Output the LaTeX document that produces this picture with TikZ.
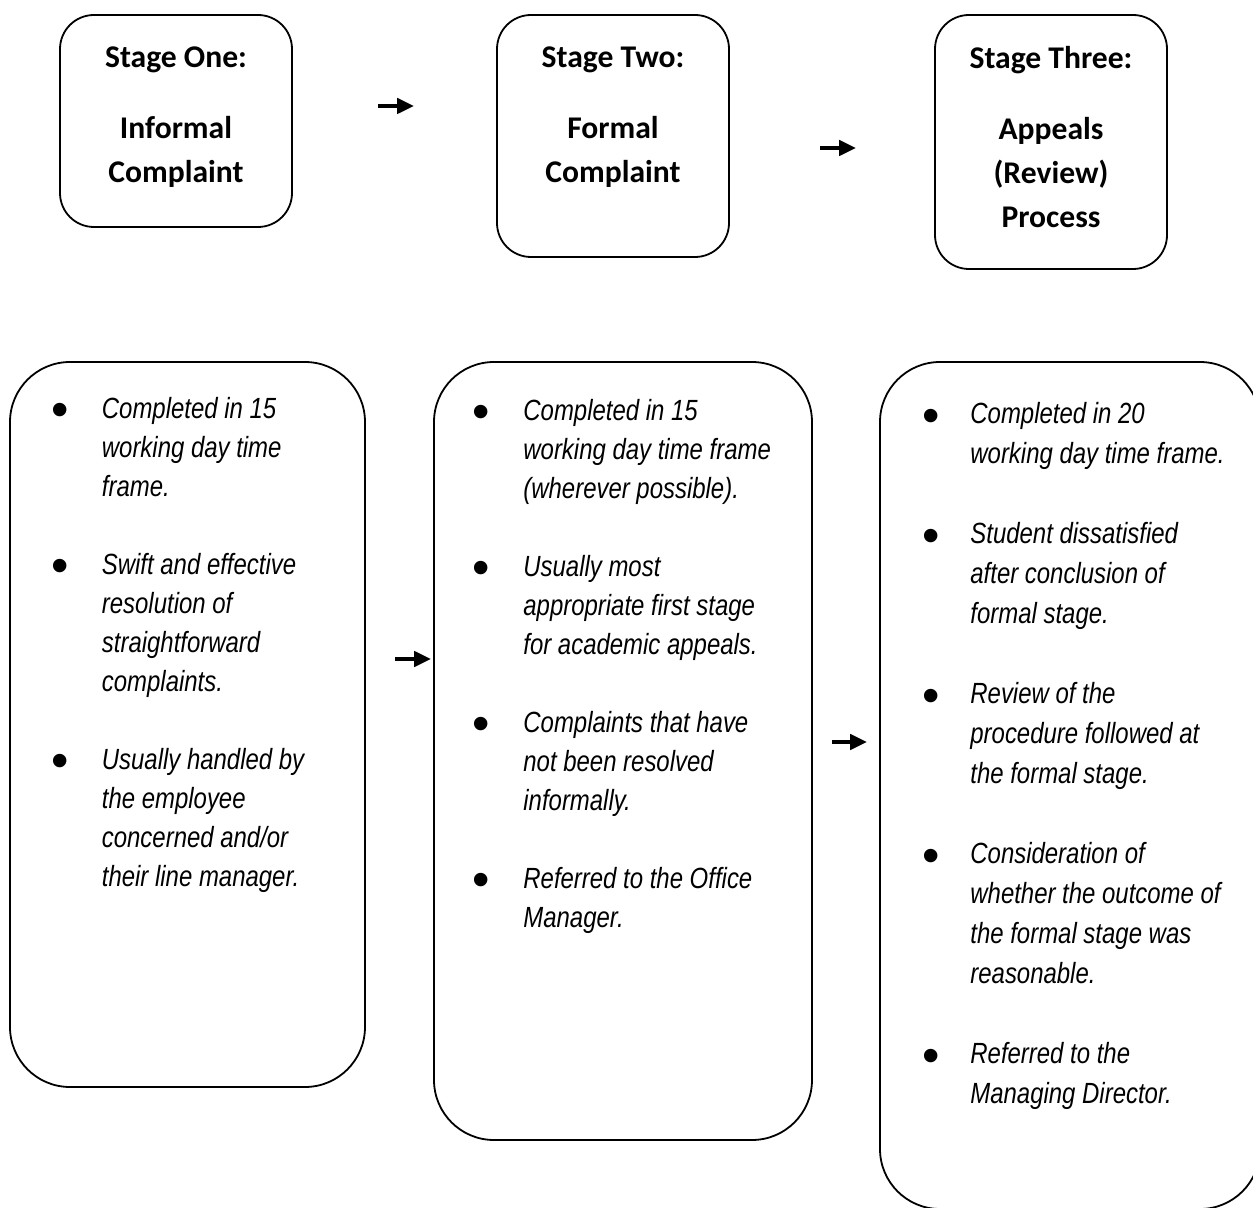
\documentclass[tikz,border=0pt]{standalone}
\usepackage{fontspec}
\newfontfamily\headfont{Carlito}
\newfontfamily\bodyfont[FakeStretch=0.82]{Liberation Sans}
\usetikzlibrary{arrows.meta, positioning}

\tikzset{
  stagebox/.style = {draw, line width = 0.9pt, rounded corners = 17pt, inner sep = 0pt, minimum width = 116pt},
  notebox/.style = {draw, line width = 0.9pt, rounded corners = 30pt, inner sep = 0pt},
  head/.style = {font = \headfont\bfseries\fontsize{15.8pt}{22pt}\selectfont, align = center, inner sep = 0pt},
  notes/.style = {font = \bodyfont\itshape\fontsize{14.6pt}{19.5pt}\selectfont, anchor = north west, inner sep = 0pt},
  arr/.style = {line width = 2.2pt, -{Triangle[length = 8.5pt, width = 7.5pt]}}
}
\newcommand{\bl}{\raisebox{-4.1pt}{\scalebox{2.07}[1.7]{\upshape\textbullet}}}

\begin{document}
\begin{tikzpicture}[x = 0.5pt, y = -0.5pt]
\useasboundingbox (0,0) rectangle (1253,1208);
% stages
\node[stagebox, minimum height = 106pt] (s1) at (176,121) {};
\node[stagebox, minimum height = 121pt] (s2) at (613,136) {};
\node[stagebox, minimum height = 127pt] (s3) at (1051,142) {};
\node[head, below = 16pt of s1.north] (h1) {Stage One:\\[13.5pt]Informal\\Complaint};
\node[head, below = 16pt of s2.north] (h2) {Stage Two:\\[13.5pt]Formal\\Complaint};
\node[head, below = 16pt of s3.north] (h3) {Stage Three:\\[13.5pt]Appeals\\(Review)\\Process};
% notes
\node[notebox, minimum width = 177.5pt, minimum height = 362.5pt] (nA) at (187.5,724.5) {};
\node[notebox, minimum width = 189pt, minimum height = 389pt] (nB) at (623,751) {};
\node[notebox, minimum width = 190pt, minimum height = 423.5pt] (nC) at (1070,785.5) {};
\node[notes] (tA) at (51.5,391) {\begin{tabular}{@{}p{25pt}@{}l@{}}
\bl & Completed in 15\\ & working day time\\ & frame.\\ & \\
\bl & Swift and effective\\ & resolution of\\ & straightforward\\ & complaints.\\ & \\
\bl & Usually handled by\\ & the employee\\ & concerned and/or\\ & their line manager.
\end{tabular}};
\node[notes] (tB) at (472,393) {\begin{tabular}{@{}p{25.5pt}@{}l@{}}
\bl & Completed in 15\\ & working day time frame\\ & (wherever possible).\\ & \\
\bl & Usually most\\ & appropriate first stage\\ & for academic appeals.\\ & \\
\bl & Complaints that have\\ & not been resolved\\ & informally.\\ & \\
\bl & Referred to the Office\\ & Manager.
\end{tabular}};
\node[notes, font = \bodyfont\itshape\fontsize{14.6pt}{20pt}\selectfont] (tC) at (922,395.5) {\begin{tabular}{@{}p{24pt}@{}l@{}}
\bl & Completed in 20\\ & working day time frame.\\ & \\
\bl & Student dissatisfied\\ & after conclusion of\\ & formal stage.\\ & \\
\bl & Review of the\\ & procedure followed at\\ & the formal stage.\\ & \\
\bl & Consideration of\\ & whether the outcome of\\ & the formal stage was\\ & reasonable.\\ & \\
\bl & Referred to the\\ & Managing Director.
\end{tabular}};
% arrows
\coordinate (q1) at (378,106);
\coordinate (q2) at (820,148);
\coordinate (p1) at (395,659);
\coordinate (p2) at (832,742);
\draw[arr, shorten >= 41pt] (q1) -- (q1 -| s2.west);
\draw[arr, shorten >= 39pt] (q2) -- (q2 -| s3.west);
\draw[arr, shorten >= 1pt] (p1) -- (p1 -| nB.west);
\draw[arr, shorten >= 6pt] (p2) -- (p2 -| nC.west);
\end{tikzpicture}
\end{document}
